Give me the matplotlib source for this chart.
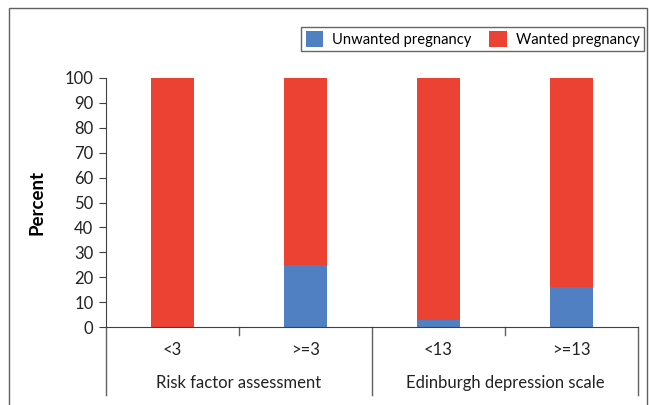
import numpy as np
import matplotlib.pyplot as plt
from matplotlib.patches import Rectangle

# data
categories = ["<3", ">=3", "<13", ">=13"]
groups = ["Risk factor assessment", "Edinburgh depression scale"]
unwanted = [0, 25, 3, 16]
wanted = [100, 75, 97, 84]

blue = "#5080C1"
red = "#EC4234"
plt.rcParams['font.family'] = ['Lato', 'DejaVu Sans']

fig = plt.figure(figsize=(6.49, 4.05), dpi=100)
ax = fig.add_axes([106/649, 78/405, 532/649, 249/405])

x = np.arange(len(categories))
ax.bar(x, unwanted, width=0.32, color=blue, label="Unwanted pregnancy")
ax.bar(x, wanted, width=0.32, bottom=unwanted, color=red, label="Wanted pregnancy")

ax.set_xlim(-0.5, 3.5)
ax.set_ylim(0, 100)
ax.set_yticks(range(0, 101, 10))
ax.tick_params(axis='y', direction='out', length=5, color="#404040", labelsize=12, labelcolor="#222222", pad=4)
ax.set_xticks([])
for s in ["top", "right"]:
    ax.spines[s].set_visible(False)
ax.spines["left"].set_color("#404040")
ax.spines["bottom"].set_color("#404040")
ax.set_ylabel("Percent", fontsize=13.5, fontweight="bold", labelpad=14)

# category and group axis below
tr = ax.get_xaxis_transform()
for xs in [-0.5, 1.5, 3.5]:
    ax.plot([xs, xs], [0, -0.273], transform=tr, color="#606060", lw=1, clip_on=False)
for xs in [0.5, 2.5]:
    ax.plot([xs, xs], [0, -0.032], transform=tr, color="#606060", lw=1, clip_on=False)
for i, c in enumerate(categories):
    ax.text(i, -0.092, c, transform=tr, ha="center", va="center", fontsize=12, color="#222222")
for i, g in enumerate(groups):
    ax.text(0.5 + 2*i, -0.225, g, transform=tr, ha="center", va="center", fontsize=12, color="#222222")

# outer border
fig.add_artist(Rectangle((9/649, -0.05), 638/649, 1.05 - 8/405, transform=fig.transFigure,
                         fill=False, edgecolor="#606060", lw=1))

leg = fig.legend(loc="upper right", bbox_to_anchor=(644/649, 1 - 27/405), ncol=2, frameon=True,
                 fancybox=False, edgecolor="#404040", fontsize=10.6, borderaxespad=0,
                 handlelength=1.2, handleheight=1.2, columnspacing=1.2, handletextpad=0.6,
                 borderpad=0.3)
leg.get_frame().set_linewidth(1)

fig.savefig("out.png", dpi=100)
